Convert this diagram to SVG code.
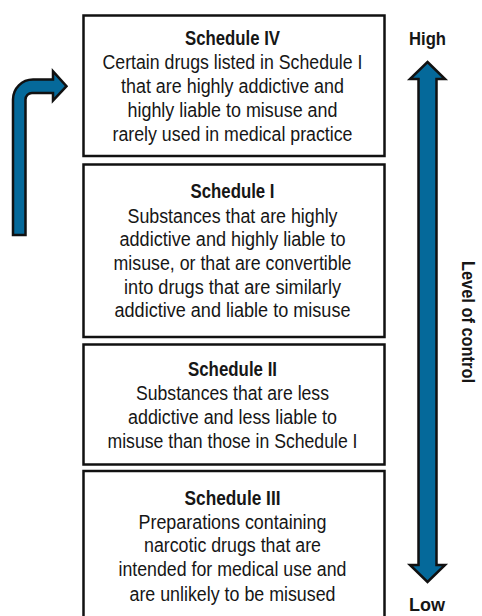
<svg xmlns="http://www.w3.org/2000/svg" width="482" height="616" viewBox="0 0 482 616">
<style>
.box{fill:#fff;stroke:#111;stroke-width:2.5}
.t{font-family:"Liberation Sans",Arial,sans-serif;font-size:19.5px;fill:#161616;text-anchor:middle}
.h{font-weight:bold}
.lbl{font-family:"Liberation Sans",Arial,sans-serif;font-size:18px;font-weight:bold;fill:#161616;text-anchor:middle}
.arr{fill:#05699a;stroke:#111;stroke-width:2.5;stroke-linejoin:miter}
</style>
<rect width="482" height="616" fill="#fff"/>
<g id="schedule-iv">
<rect class="box" x="83.5" y="15.5" width="301" height="140.5"/>
<text class="t h" x="232.5" y="45" textLength="95" lengthAdjust="spacingAndGlyphs">Schedule IV</text>
<text class="t" x="232.5" y="69" textLength="260" lengthAdjust="spacingAndGlyphs">Certain drugs listed in Schedule I</text>
<text class="t" x="232.5" y="93" textLength="223" lengthAdjust="spacingAndGlyphs">that are highly addictive and</text>
<text class="t" x="232.5" y="117" textLength="210" lengthAdjust="spacingAndGlyphs">highly liable to misuse and</text>
<text class="t" x="232.5" y="140.5" textLength="240" lengthAdjust="spacingAndGlyphs">rarely used in medical practice</text>
</g>
<g id="schedule-i">
<rect class="box" x="83.5" y="164.5" width="301" height="172.5"/>
<text class="t h" x="232.5" y="198" textLength="84" lengthAdjust="spacingAndGlyphs">Schedule I</text>
<text class="t" x="232.5" y="222.5" textLength="210" lengthAdjust="spacingAndGlyphs">Substances that are highly</text>
<text class="t" x="232.5" y="246" textLength="226" lengthAdjust="spacingAndGlyphs">addictive and highly liable to</text>
<text class="t" x="232.5" y="270" textLength="238" lengthAdjust="spacingAndGlyphs">misuse, or that are convertible</text>
<text class="t" x="232.5" y="293.5" textLength="217" lengthAdjust="spacingAndGlyphs">into drugs that are similarly</text>
<text class="t" x="232.5" y="317" textLength="236" lengthAdjust="spacingAndGlyphs">addictive and liable to misuse</text>
</g>
<g id="schedule-ii">
<rect class="box" x="83.5" y="344.5" width="301" height="120"/>
<text class="t h" x="232.5" y="376" textLength="89" lengthAdjust="spacingAndGlyphs">Schedule II</text>
<text class="t" x="232.5" y="399.5" textLength="193" lengthAdjust="spacingAndGlyphs">Substances that are less</text>
<text class="t" x="232.5" y="424" textLength="209" lengthAdjust="spacingAndGlyphs">addictive and less liable to</text>
<text class="t" x="232.5" y="447.7" textLength="250" lengthAdjust="spacingAndGlyphs">misuse than those in Schedule I</text>
</g>
<g id="schedule-iii">
<rect class="box" x="83.5" y="471" width="301" height="160"/>
<text class="t h" x="232.5" y="505" textLength="96" lengthAdjust="spacingAndGlyphs">Schedule III</text>
<text class="t" x="232.5" y="529" textLength="188" lengthAdjust="spacingAndGlyphs">Preparations containing</text>
<text class="t" x="232.5" y="552.3" textLength="177" lengthAdjust="spacingAndGlyphs">narcotic drugs that are</text>
<text class="t" x="232.5" y="575.7" textLength="228" lengthAdjust="spacingAndGlyphs">intended for medical use and</text>
<text class="t" x="232.5" y="600.5" textLength="206" lengthAdjust="spacingAndGlyphs">are unlikely to be misused</text>
</g>
<g id="connectors">
<path id="bent-arrow" class="arr" d="M13,235 L13,99.5 A20,20 0 0 1 33,79.5 L53,79.5 L53,71.3 L66.5,86.2 L53,100.6 L53,93 L32,93 A6.5,6.5 0 0 0 25.5,99.5 L25.5,235 Z"/>
<path id="control-arrow" class="arr" d="M427.5,62 L445,79 L436.5,79 L436.5,565 L445,565 L427.5,582 L410,565 L418.5,565 L418.5,79 L410,79 Z"/>
</g>
<g id="scale-labels">
<text class="lbl" x="427.5" y="45" textLength="37" lengthAdjust="spacingAndGlyphs">High</text>
<text class="lbl" x="427" y="611" textLength="36" lengthAdjust="spacingAndGlyphs">Low</text>
<text class="lbl" transform="translate(462,322) rotate(90)" x="0" y="0" textLength="122" lengthAdjust="spacingAndGlyphs">Level of control</text>
</g>
</svg>
